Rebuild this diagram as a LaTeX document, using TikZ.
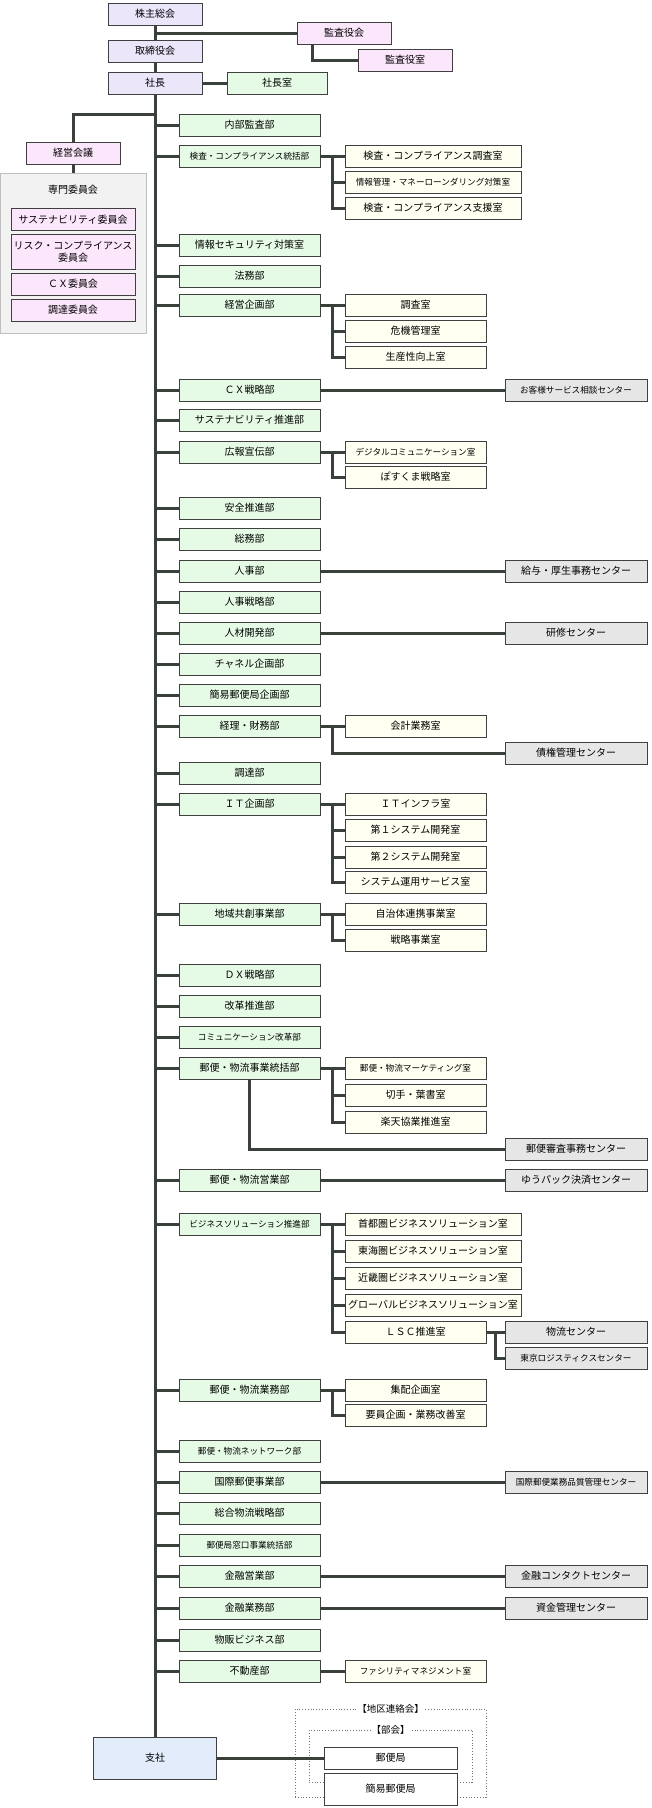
\documentclass[tikz,border=0pt]{standalone}
\usepackage{fontspec}
\setmainfont{Noto Sans CJK JP}
\definecolor{topfill}{HTML}{ECE6FB}
\definecolor{pinkfill}{HTML}{FCE6FB}
\definecolor{deptfill}{HTML}{E6FBE6}
\definecolor{subfill}{HTML}{FFFFF2}
\definecolor{ctrfill}{HTML}{E6E6E6}
\definecolor{brfill}{HTML}{E3ECFB}
\definecolor{panelfill}{HTML}{F2F2F2}
\definecolor{linecol}{HTML}{3A403A}
\tikzset{
  box/.style={draw=black!75,line width=0.8pt,minimum height=22pt,inner sep=0pt,
    font=\fontsize{10}{12}\selectfont},
  top/.style={box,fill=topfill,minimum width=94pt},
  pink/.style={box,fill=pinkfill,minimum width=94pt},
  dept/.style={box,fill=deptfill,minimum width=141pt},
  sub/.style={box,fill=subfill,minimum width=141pt},
  wsub/.style={box,fill=subfill,minimum width=176pt},
  ctr/.style={box,fill=ctrfill,minimum width=142pt},
  small/.style={font=\fontsize{8.6}{10}\selectfont},
  link/.style={draw=linecol,line width=3pt},
  dotbox/.style={draw=black!55,dotted,line width=0.8pt,inner sep=0pt}
}
\begin{document}
\begin{tikzpicture}[x=1pt,y=-1pt]
  \useasboundingbox (0,0) rectangle (652,1808);
  % top
  \node[top] (kabu) at (155,14) {株主総会};
  \node[pink] (kansa) at (344,33) {監査役会};
  \node[pink] (kansashitsu) at (405,60) {監査役室};
  \node[top] (tori) at (155,51) {取締役会};
  \node[top] (shacho) at (155,83) {社長};
  \node[dept,minimum width=100pt] (shachoshitsu) at (277,83) {社長室};
  \coordinate (tk) at (155,0);
  \coordinate (kx) at (312,0);
  \coordinate (jx) at (332,0);
  \coordinate (rx) at (495,0);
  \coordinate (b1) at (155,114);
  % committees
  \node[box,draw=black!25,fill=panelfill,minimum width=146pt,minimum height=160pt] (panel) at (73,253) {};
  \node[pink] (keiei) at (73,153) {経営会議};
  \node[font=\fontsize{10}{12}\selectfont] (senmon) at (73,190) {専門委員会};
  \node[pink,minimum width=124pt] (c1) at (73,219.5) {サステナビリティ委員会};
  \node[pink,minimum width=124pt,minimum height=35pt,align=center] (c2) at (73,251.5) {リスク・コンプライアンス\\委員会};
  \node[pink,minimum width=124pt] (c3) at (73,284) {ＣＸ委員会};
  \node[pink,minimum width=124pt] (c4) at (73,310) {調達委員会};
  % branch office
  \node[box,fill=brfill,minimum width=123pt,minimum height=42pt] (shisha) at (155,1758) {支社};
  % departments
  \node[dept] (d01) at (249.5,125) {内部監査部};
  \node[dept,small] (d02) at (249.5,156) {検査・コンプライアンス統括部};
  \node[dept] (d03) at (249.5,245) {情報セキュリティ対策室};
  \node[dept] (d04) at (249.5,276) {法務部};
  \node[dept] (d05) at (249.5,305) {経営企画部};
  \node[dept] (d06) at (249.5,390) {ＣＸ戦略部};
  \node[dept] (d07) at (249.5,420) {サステナビリティ推進部};
  \node[dept] (d08) at (249.5,452) {広報宣伝部};
  \node[dept] (d09) at (249.5,508) {安全推進部};
  \node[dept] (d10) at (249.5,539) {総務部};
  \node[dept] (d11) at (249.5,571) {人事部};
  \node[dept] (d12) at (249.5,602) {人事戦略部};
  \node[dept] (d13) at (249.5,633) {人材開発部};
  \node[dept] (d14) at (249.5,664) {チャネル企画部};
  \node[dept] (d15) at (249.5,695) {簡易郵便局企画部};
  \node[dept] (d16) at (249.5,726) {経理・財務部};
  \node[dept] (d17) at (249.5,773) {調達部};
  \node[dept] (d18) at (249.5,804) {ＩＴ企画部};
  \node[dept] (d19) at (249.5,914) {地域共創事業部};
  \node[dept] (d20) at (249.5,975) {ＤＸ戦略部};
  \node[dept] (d21) at (249.5,1006) {改革推進部};
  \node[dept,small] (d22) at (249.5,1037) {コミュニケーション改革部};
  \node[dept] (d23) at (249.5,1068) {郵便・物流事業統括部};
  \node[dept] (d24) at (249.5,1180) {郵便・物流営業部};
  \node[dept,small] (d25) at (249.5,1224) {ビジネスソリューション推進部};
  \node[dept] (d26) at (249.5,1390) {郵便・物流業務部};
  \node[dept,small] (d27) at (249.5,1451) {郵便・物流ネットワーク部};
  \node[dept] (d28) at (249.5,1482) {国際郵便事業部};
  \node[dept] (d29) at (249.5,1513) {総合物流戦略部};
  \node[dept,small] (d30) at (249.5,1545) {郵便局窓口事業統括部};
  \node[dept] (d31) at (249.5,1576) {金融営業部};
  \node[dept] (d32) at (249.5,1608) {金融業務部};
  \node[dept] (d33) at (249.5,1640) {物販ビジネス部};
  \node[dept] (d34) at (249.5,1671) {不動産部};
  % offices
  \node[wsub] (s02a) at (433,156) {検査・コンプライアンス調査室};
  \node[wsub,small] (s02b) at (433,182) {情報管理・マネーローンダリング対策室};
  \node[wsub] (s02c) at (433,208) {検査・コンプライアンス支援室};
  \node[sub] (s05a) at (415.5,305) {調査室};
  \node[sub] (s05b) at (415.5,331) {危機管理室};
  \node[sub] (s05c) at (415.5,357) {生産性向上室};
  \node[sub,small] (s08a) at (415.5,452) {デジタルコミュニケーション室};
  \node[sub] (s08b) at (415.5,477) {ぽすくま戦略室};
  \node[sub] (s16a) at (415.5,726) {会計業務室};
  \node[sub] (s18a) at (415.5,804) {ＩＴインフラ室};
  \node[sub] (s18b) at (415.5,830) {第１システム開発室};
  \node[sub] (s18c) at (415.5,857) {第２システム開発室};
  \node[sub] (s18d) at (415.5,882) {システム運用サービス室};
  \node[sub] (s19a) at (415.5,914) {自治体連携事業室};
  \node[sub] (s19b) at (415.5,940) {戦略事業室};
  \node[sub,small] (s23a) at (415.5,1068) {郵便・物流マーケティング室};
  \node[sub] (s23b) at (415.5,1095) {切手・葉書室};
  \node[sub] (s23c) at (415.5,1122) {楽天協業推進室};
  \node[wsub] (s25a) at (433,1224) {首都圏ビジネスソリューション室};
  \node[wsub] (s25b) at (433,1251) {東海圏ビジネスソリューション室};
  \node[wsub] (s25c) at (433,1278) {近畿圏ビジネスソリューション室};
  \node[wsub] (s25d) at (433,1305) {グローバルビジネスソリューション室};
  \node[sub] (s25e) at (415.5,1332) {ＬＳＣ推進室};
  \node[sub] (s26a) at (415.5,1390) {集配企画室};
  \node[sub] (s26b) at (415.5,1415) {要員企画・業務改善室};
  \node[sub,small] (s34a) at (415.5,1671) {ファシリティマネジメント室};
  % centers
  \node[ctr,small] (r06) at (576,390) {お客様サービス相談センター};
  \node[ctr] (r11) at (576,571) {給与・厚生事務センター};
  \node[ctr] (r13) at (576,633) {研修センター};
  \node[ctr] (r16) at (576,753) {債権管理センター};
  \node[ctr] (r23) at (576,1149) {郵便審査事務センター};
  \node[ctr] (r24) at (576,1180) {ゆうパック決済センター};
  \node[ctr] (r25a) at (576,1332) {物流センター};
  \node[ctr,small] (r25b) at (576,1358) {東京ロジスティクスセンター};
  \node[ctr,small] (r28) at (576,1482) {国際郵便業務品質管理センター};
  \node[ctr] (r31) at (576,1576) {金融コンタクトセンター};
  \node[ctr] (r32) at (576,1608) {資金管理センター};
  % district groups
  \node[dotbox,minimum width=191pt,minimum height=88pt] (chiku) at (390.5,1753) {};
  \node[dotbox,minimum width=163pt,minimum height=52pt] (bukai) at (390.5,1756) {};
  \node[fill=white,inner sep=1pt,font=\fontsize{9.5}{11}\selectfont] at (chiku.north) {【地区連絡会】};
  \node[fill=white,inner sep=1pt,font=\fontsize{9.5}{11}\selectfont] at (bukai.north) {【部会】};
  \node[box,fill=white,minimum width=133pt] (kyoku) at (390.5,1758) {郵便局};
  \node[box,fill=white,minimum width=133pt,minimum height=32pt] (kani) at (390.5,1789) {簡易郵便局};
  % connectors
  \begin{scope}[on background layer/.style={}]
  \end{scope}
  \draw[link] (kabu) -- (tori) -- (shacho);
  \draw[link] (kansa.west -| tk) -- (kansa.west);
  \draw[link] (kansa.south -| kx) |- (kansashitsu.west);
  \draw[link] (shacho) -- (shachoshitsu);
  \draw[link] (shacho.south) -- (shisha.north);
  \draw[link] (b1) -| (keiei.north);
  \draw[link] (keiei.south) -- (keiei.south |- panel.north);
  \foreach \d in {d01,d02,d03,d04,d05,d06,d07,d08,d09,d10,d11,d12,d13,d14,d15,d16,d17,
    d18,d19,d20,d21,d22,d23,d24,d25,d26,d27,d28,d29,d30,d31,d32,d33,d34}
    \draw[link] (\d.west -| tk) -- (\d.west);
  \draw[link] (d02.east) -- (s02a.west);
  \draw[link] (s02a.west -| jx) |- (s02c.west);
  \draw[link] (s02b.west -| jx) -- (s02b.west);
  \draw[link] (d05.east) -- (s05a.west);
  \draw[link] (s05a.west -| jx) |- (s05c.west);
  \draw[link] (s05b.west -| jx) -- (s05b.west);
  \draw[link] (d06.east) -- (r06.west);
  \draw[link] (d08.east) -- (s08a.west);
  \draw[link] (s08a.west -| jx) |- (s08b.west);
  \draw[link] (d11.east) -- (r11.west);
  \draw[link] (d13.east) -- (r13.west);
  \draw[link] (d16.east) -- (s16a.west);
  \draw[link] (s16a.west -| jx) |- (r16.west);
  \draw[link] (d18.east) -- (s18a.west);
  \draw[link] (s18a.west -| jx) |- (s18d.west);
  \draw[link] (s18b.west -| jx) -- (s18b.west);
  \draw[link] (s18c.west -| jx) -- (s18c.west);
  \draw[link] (d19.east) -- (s19a.west);
  \draw[link] (s19a.west -| jx) |- (s19b.west);
  \draw[link] (d23.east) -- (s23a.west);
  \draw[link] (s23a.west -| jx) |- (s23c.west);
  \draw[link] (s23b.west -| jx) -- (s23b.west);
  \draw[link] (d23.south) |- (r23.west);
  \draw[link] (d24.east) -- (r24.west);
  \draw[link] (d25.east) -- (s25a.west);
  \draw[link] (s25a.west -| jx) |- (s25e.west);
  \draw[link] (s25b.west -| jx) -- (s25b.west);
  \draw[link] (s25c.west -| jx) -- (s25c.west);
  \draw[link] (s25d.west -| jx) -- (s25d.west);
  \draw[link] (s25e.east) -- (r25a.west);
  \draw[link] (r25a.west -| rx) |- (r25b.west);
  \draw[link] (d26.east) -- (s26a.west);
  \draw[link] (s26a.west -| jx) |- (s26b.west);
  \draw[link] (d28.east) -- (r28.west);
  \draw[link] (d31.east) -- (r31.west);
  \draw[link] (d32.east) -- (r32.west);
  \draw[link] (d34.east) -- (s34a.west);
  \draw[link] (shisha.east) -- (kyoku.west);
\end{tikzpicture}
\end{document}
